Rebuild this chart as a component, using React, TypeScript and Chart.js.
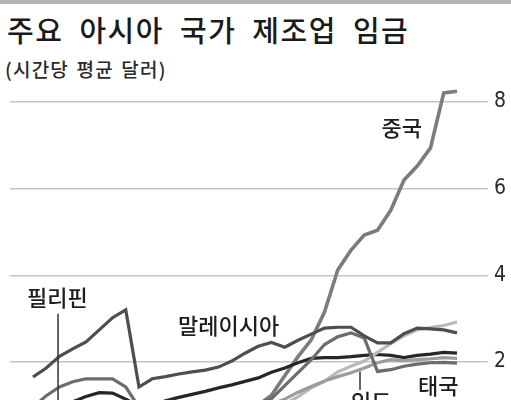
import React, { useEffect, useRef } from "react";
import { Chart, registerables } from "chart.js";

Chart.register(...registerables);

const years = [
  1990, 1991, 1992, 1993, 1994, 1995, 1996, 1997, 1998, 1999, 2000, 2001, 2002,
  2003, 2004, 2005, 2006, 2007, 2008, 2009, 2010, 2011, 2012, 2013, 2014, 2015,
  2016, 2017, 2018, 2019, 2020, 2021, 2022,
];

const china = [
  null, null, null, null, null, null, null, null, null, null, null, null, null,
  null, null, null, null, 1.0, 1.23, 1.68, 2.12, 2.51, 3.15, 4.12, 4.58, 4.93,
  5.04, 5.5, 6.2, 6.52, 6.94, 8.21, 8.25,
];
const malaysia = [
  1.65, 1.86, 2.13, 2.3, 2.46, 2.74, 3.02, 3.2, 1.42, 1.61, 1.66, 1.72, 1.77,
  1.81, 1.88, 2.02, 2.2, 2.36, 2.45, 2.34, 2.5, 2.64, 2.78, 2.8, 2.8, 2.6, 2.44,
  2.44, 2.65, 2.78, 2.76, 2.74, 2.67,
];
const thailand = [
  0.95, 1.22, 1.42, 1.54, 1.61, 1.61, 1.61, 1.42, 0.95, 0.95, 0.95, 0.96, 0.97,
  0.98, 0.99, 1.0, 1.02, 1.05, 1.15, 1.45, 1.75, 2.05, 2.4, 2.58, 2.67, 2.55,
  1.78, 1.82, 1.9, 1.95, 1.98, 1.99, 1.97,
];
const philippines = [
  0.95, 0.98, 1.03, 1.08, 1.2, 1.29, 1.28, 1.14, 0.98, 1.0, 1.1, 1.18, 1.25,
  1.32, 1.4, 1.47, 1.55, 1.63, 1.76, 1.86, 1.98, 2.08, 2.1, 2.1, 2.12, 2.15,
  2.17, 2.15, 2.1, 2.15, 2.18, 2.22, 2.2,
];
const india = [
  null, null, null, null, null, null, null, null, null, null, null, null, null,
  null, null, null, null, null, 1.03, 1.14, 1.3, 1.43, 1.56, 1.66, 1.75, 1.86,
  1.98, 2.05, 2.03, 2.05, 2.07, 2.1, 2.08,
];
const vietnam = [
  null, null, null, null, null, null, null, null, null, null, null, null, null,
  null, null, null, null, null, null, 1.02, 1.2, 1.4, 1.55, 1.77, 1.9, 2.02,
  2.22, 2.42, 2.6, 2.74, 2.79, 2.84, 2.92,
];

const yTicks = [2, 4, 6, 8];

const titleText = "주요 아시아 국가 제조업 임금";
const subtitleText = "(시간당 평균 달러)";

// labels placed in data coordinates (year, value)
const labelTexts = ["중국", "필리핀", "말레이시아", "태국", "인도"];
const labelYears = [2016.3, 1989.55, 2000.94, 2019.06, 2014.0];
const labelValues = [7.4, 3.48, 2.83, 1.45, 1.08];

// leader lines (year, from value, to value)
const leaderYears = [1991.89, 2014.68];
const leaderFrom = [3.11, 1.78];
const leaderTo = [0.9, 1.35];

const CJK = "'Noto Sans CJK KR', 'Noto Sans', sans-serif";

export default function App() {
  const ref = useRef<HTMLCanvasElement | null>(null);

  useEffect(() => {
    if (!ref.current) return;
    const mk = (label: string, data: (number | null)[], color: string, w: number) => ({
      label,
      data: years.map((x, i) => ({ x, y: data[i] })),
      borderColor: color,
      backgroundColor: color,
      borderWidth: w,
      pointRadius: 0,
      tension: 0,
      spanGaps: false,
    });

    const annot = {
      id: "annot",
      afterDatasetsDraw(chart: any) {
        const ctx = chart.ctx;
        const xs = chart.scales.x;
        const ys = chart.scales.y;
        ctx.save();
        ctx.strokeStyle = "#333";
        ctx.lineWidth = 1.5;
        leaderYears.forEach((yr, i) => {
          const px = xs.getPixelForValue(yr);
          ctx.beginPath();
          ctx.moveTo(px, ys.getPixelForValue(leaderFrom[i]));
          ctx.lineTo(px, ys.getPixelForValue(leaderTo[i]));
          ctx.stroke();
        });
        ctx.fillStyle = "#1e1e1e";
        ctx.font = `500 22px ${CJK}`;
        ctx.textAlign = "left";
        ctx.textBaseline = "middle";
        labelTexts.forEach((t, i) => {
          ctx.fillText(t, xs.getPixelForValue(labelYears[i]), ys.getPixelForValue(labelValues[i]));
        });
        ctx.restore();
      },
    };

    const chart = new Chart(ref.current, {
      type: "line",
      data: {
        datasets: [
          mk("말레이시아", malaysia, "#4e4e4e", 3.2),
          mk("태국", thailand, "#6c6c6c", 3.2),
          mk("인도", india, "#9c9c9c", 3.2),
          mk("베트남", vietnam, "#b9b9b9", 3.2),
          mk("필리핀", philippines, "#262626", 3.2),
          mk("중국", china, "#7c7c7c", 3.6),
        ],
      },
      options: {
        animation: false,
        responsive: false,
        maintainAspectRatio: false,
        layout: { padding: { top: 76, left: 10, right: 0, bottom: 0 } },
        plugins: {
          legend: { display: false },
          tooltip: { enabled: false },
          title: { display: false },
        },
        scales: {
          x: {
            type: "linear",
            display: false,
            min: years[0] - 1.736,
            max: years[years.length - 1] + 1.585,
          },
          y: {
            position: "right",
            min: 1.12,
            max: 8.6,
            afterBuildTicks: (s: any) => {
              s.ticks = yTicks.map((v) => ({ value: v }));
            },
            afterFit: (s: any) => {
              s.width = 33;
              s.paddingTop = 0;
              s.paddingBottom = 0;
            },
            border: { display: false },
            grid: {
              color: "#c4c4c4",
              lineWidth: 1.5,
              drawTicks: true,
              tickLength: 10,
              tickColor: "#c4c4c4",
            },
            ticks: {
              padding: 6,
              color: "#2a2a2a",
              font: { family: "'Liberation Sans Narrow', 'DejaVu Sans Condensed', sans-serif", size: 21 },
            },
          },
        },
      },
      plugins: [annot],
    } as any);
    return () => chart.destroy();
  }, []);

  return (
    <div
      style={{
        position: "fixed",
        left: 0,
        top: 0,
        width: 511,
        height: 400,
        overflow: "hidden",
        background: "#fff",
      }}
    >
      <div style={{ position: "absolute", left: 0, top: 0, width: 511, height: 4, background: "#b3b3b3" }} />
      <div
        style={{
          position: "absolute",
          left: 7,
          top: 15,
          fontFamily: CJK,
          fontSize: 29,
          fontWeight: 500,
          lineHeight: "29px",
          letterSpacing: "1.5px",
          wordSpacing: "8px",
          color: "#1a1a1a",
          whiteSpace: "nowrap",
        }}
      >
        {titleText}
      </div>
      <div
        style={{
          position: "absolute",
          left: 5,
          top: 59,
          fontFamily: CJK,
          fontSize: 19,
          fontWeight: 500,
          lineHeight: "19px",
          letterSpacing: "1.2px",
          wordSpacing: "2px",
          color: "#2a2a2a",
          whiteSpace: "nowrap",
        }}
      >
        {subtitleText}
      </div>
      <canvas
        ref={ref}
        width={511}
        height={400}
        style={{ position: "absolute", left: 0, top: 0, width: 511, height: 400 }}
      />
    </div>
  );
}
